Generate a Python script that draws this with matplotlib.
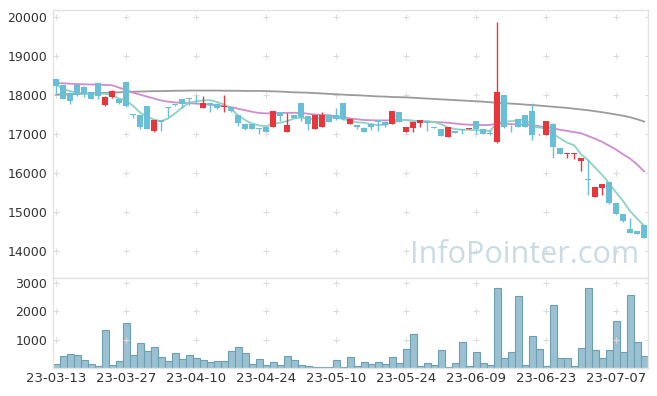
import matplotlib
matplotlib.use('Agg')
import matplotlib.pyplot as plt
import numpy as np
import pandas as pd

holidays = ['2023-05-01', '2023-05-05', '2023-05-29', '2023-06-06']
dates = pd.bdate_range('2023-03-13', '2023-07-13', freq='C', holidays=holidays)

opens = [18400, 18250, 18060, 18250, 18210, 18080, 18300, 17750, 17950, 17910,
         18330, 17510, 17500, 17730, 17070, 17370, 17700, 17780, 17900, 17920,
         18000, 17680, 17790, 17780, 17690, 17700, 17490, 17260, 17260, 17150,
         17190, 17190, 17560, 17040, 17490, 17790, 17460, 17120, 17170, 17490,
         17490, 17790, 17260, 17230, 17160, 17270, 17360, 17320, 17270, 17560,
         17060, 17160, 17290, 17330, 17170, 17130, 16930, 17080, 17120, 17140,
         17330, 17130, 17020, 16800, 18000, 17230, 17380, 17490, 17590, 16990,
         16980, 17270, 16630, 16500, 16500, 16310, 15840, 15380, 15620, 15770,
         15220, 14950, 14560, 14510, 14660]
highs = [18400, 18260, 18070, 18320, 18220, 18090, 18300, 17970, 18120, 17910,
         18330, 17510, 17500, 17730, 17370, 17370, 17700, 17780, 17900, 17930,
         18010, 17970, 17800, 17790, 18000, 17700, 17490, 17260, 17260, 17150,
         17190, 17600, 17560, 17530, 17490, 17790, 17460, 17490, 17560, 17520,
         17680, 17790, 17390, 17240, 17170, 17280, 17370, 17330, 17600, 17570,
         17180, 17300, 17360, 17330, 17170, 17130, 17180, 17090, 17120, 17160,
         17330, 17130, 17100, 19880, 18000, 17240, 17380, 17500, 17790, 17000,
         17340, 17280, 16640, 16520, 16520, 16380, 16340, 15640, 15710, 15770,
         15220, 14950, 14850, 14520, 14660]
lows = [18060, 17900, 17760, 17970, 17960, 17900, 17900, 17730, 17930, 17780,
        17700, 17400, 17120, 17130, 17060, 17080, 17430, 17730, 17680, 17740,
        17790, 17660, 17570, 17640, 17570, 17570, 17210, 17110, 17120, 17000,
        17060, 17190, 17340, 17040, 17410, 17330, 17100, 17120, 17170, 17310,
        17370, 17370, 17250, 17120, 17040, 17100, 17070, 17170, 17260, 17300,
        17040, 17040, 17170, 17080, 17160, 16940, 16930, 17030, 16990, 17140,
        17000, 16990, 16970, 16760, 17150, 17060, 17190, 17170, 16860, 16980,
        16980, 16380, 16480, 16380, 16360, 16050, 15440, 15380, 15440, 15210,
        14940, 14750, 14470, 14450, 14340]
closes = [18240, 17900, 17860, 18000, 18030, 17900, 17980, 17950, 18110, 17790,
          17710, 17490, 17190, 17140, 17360, 17300, 17670, 17740, 17780, 17900,
          17990, 17790, 17750, 17680, 17720, 17580, 17280, 17140, 17140, 17130,
          17060, 17590, 17470, 17230, 17420, 17430, 17260, 17490, 17490, 17320,
          17380, 17380, 17380, 17190, 17040, 17170, 17320, 17230, 17590, 17300,
          17180, 17300, 17360, 17280, 17160, 16940, 17180, 17030, 17110, 17160,
          17120, 16990, 17010, 18070, 17170, 17220, 17190, 17170, 16980, 17000,
          17330, 16680, 16500, 16520, 16510, 16380, 15810, 15640, 15710, 15220,
          14940, 14760, 14470, 14450, 14340]

volume = [153, 435, 506, 470, 294, 153, 82, 1352, 118, 259,
          1600, 470, 894, 612, 753, 400, 259, 541, 306, 470,
          341, 294, 200, 235, 235, 612, 753, 541, 153, 329,
          118, 223, 118, 435, 294, 118, 82, 47, 47, 35,
          278, 23, 383, 70, 209, 139, 209, 139, 383, 174,
          661, 1183, 70, 174, 104, 626, 35, 174, 905, 70,
          557, 174, 104, 2819, 348, 557, 2540, 104, 1114, 661,
          70, 2227, 348, 348, 70, 696, 2819, 626, 348, 626,
          1670, 557, 2575, 905, 418]

ma5 = [18270, 18150, 18100, 18060, 18050, 18040, 18040, 18030, 17990, 17910,
       17860, 17720, 17550, 17440, 17370, 17330, 17400, 17530, 17680, 17800,
       17840, 17860, 17870, 17820, 17760, 17640, 17480, 17360, 17270, 17220,
       17200, 17260, 17290, 17330, 17400, 17420, 17400, 17380, 17420, 17440,
       17430, 17380, 17340, 17300, 17290, 17250, 17230, 17240, 17300, 17340,
       17360, 17340, 17330, 17330, 17310, 17250, 17170, 17130, 17110, 17110,
       17100, 17090, 17080, 17290, 17320, 17330, 17340, 17400, 17190, 17170,
       17140, 17000, 16890, 16780, 16710, 16480, 16330, 16140, 15950, 15740,
       15500, 15280, 15020, 14830, 14650]
ma20 = [18310, 18300, 18290, 18280, 18275, 18270, 18265, 18260, 18250, 18190,
        18130, 18060, 18010, 17960, 17910, 17860, 17830, 17810, 17800, 17790,
        17780, 17770, 17750, 17735, 17720, 17690, 17650, 17610, 17570, 17540,
        17530, 17535, 17540, 17545, 17545, 17540, 17520, 17500, 17490, 17480,
        17460, 17430, 17400, 17380, 17360, 17355, 17350, 17350, 17355, 17360,
        17355, 17340, 17330, 17320, 17310, 17300, 17290, 17270, 17250, 17240,
        17235, 17230, 17235, 17270, 17265, 17255, 17245, 17240, 17230, 17200,
        17170, 17145, 17110, 17080, 17050, 17020, 16950, 16880, 16800, 16700,
        16600, 16480, 16370, 16220, 16040]
ma60 = [18010, 18015, 18020, 18030, 18035, 18040, 18050, 18055, 18065, 18070,
        18080, 18085, 18090, 18095, 18100, 18100, 18105, 18110, 18110, 18115,
        18115, 18115, 18115, 18115, 18110, 18110, 18110, 18105, 18105, 18105,
        18100, 18095, 18090, 18080, 18070, 18065, 18060, 18050, 18040, 18030,
        18020, 18010, 18000, 17995, 17985, 17975, 17965, 17960, 17950, 17945,
        17940, 17930, 17920, 17910, 17900, 17890, 17880, 17870, 17860, 17850,
        17840, 17830, 17815, 17800, 17790, 17780, 17770, 17755, 17745, 17730,
        17715, 17700, 17685, 17670, 17650, 17630, 17610, 17585, 17560, 17530,
        17500, 17470, 17430, 17380, 17320]

price_ticks = [14000, 15000, 16000, 17000, 18000, 19000, 20000]
vol_ticks = [1000, 2000, 3000]

UP = '#e8363b'
DOWN = '#68bfd6'
BORDER = '#e3e3e3'

fig = plt.figure(figsize=(6.57, 3.96), dpi=100)
ax = fig.add_axes([53/657, 118/396, 595/657, 268/396])
axv = fig.add_axes([53/657, 28/396, 595/657, 90/396])

x = np.arange(len(closes))

# candles
for i in x:
    o, h, l, c = opens[i], highs[i], lows[i], closes[i]
    col = UP if c > o else DOWN
    ax.vlines(i, l, h, color=col, linewidth=1, zorder=3)
    body = abs(c - o)
    if body < 15:
        body = 15
    ax.bar(i, body, bottom=min(o, c), width=0.78, color=col, linewidth=0, zorder=3)

ax.plot(x, ma60, color='#9b9b9b', linewidth=1.3, zorder=2)
ax.plot(x, ma20, color='#d08cd0', linewidth=1.3, zorder=2)
ax.plot(x, ma5, color='#8ed2c4', linewidth=1.3, zorder=2)

axv.bar(x, volume, width=1.0, color='#9bc1d1', edgecolor='#6b9fb6', linewidth=0.8)

xt = list(range(0, len(dates), 10))
xlabels = [dates[k].strftime('%y-%m-%d') for k in xt]

for a in (ax, axv):
    a.set_xlim(-0.45, 84.55)
    for s in a.spines.values():
        s.set_color(BORDER)
        s.set_linewidth(1)
    a.tick_params(length=0, labelsize=9, colors='#333333', pad=4)
    a.set_xticks(xt)

ax.set_ylim(13310, 20180)
ax.set_yticks(price_ticks)
ax.set_xticklabels([])
axv.set_ylim(0, 3170)
axv.set_yticks(vol_ticks)
axv.set_xticklabels(xlabels)
axv.tick_params(axis='x', labelsize=9.5, pad=3)

# small + marks at grid crossings
gx, gy = np.meshgrid(xt + [84.5], price_ticks)
ax.scatter(gx.ravel(), gy.ravel(), marker='+', s=14, color='#dddddd', linewidth=0.8, zorder=1)
gx, gy = np.meshgrid(xt + [84.5], vol_ticks)
axv.scatter(gx.ravel(), gy.ravel(), marker='+', s=14, color='#dddddd', linewidth=0.8, zorder=1)

fig.text(639/657, 1 - 255/396, 'InfoPointer.com', ha='right', va='center',
         fontsize=22, color='#c9dce5', family='Open Sans', zorder=0)

fig.savefig('out.png', dpi=100)
